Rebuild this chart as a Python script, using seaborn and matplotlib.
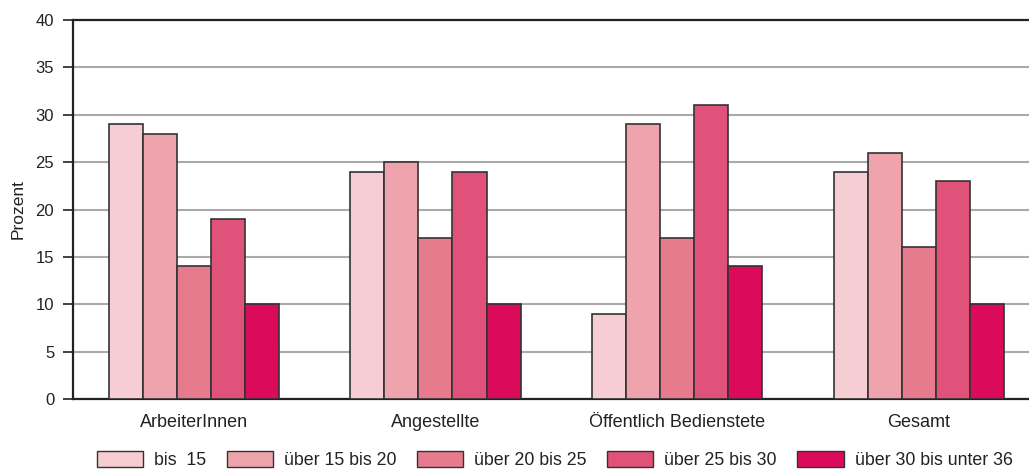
import matplotlib
matplotlib.use("Agg")
import matplotlib.pyplot as plt
import seaborn as sns
import pandas as pd
from matplotlib.patches import Patch

categories = ["ArbeiterInnen", "Angestellte", "Öffentlich Bedienstete", "Gesamt"]
groups = ["bis  15", "über 15 bis 20", "über 20 bis 25", "über 25 bis 30", "über 30 bis unter 36"]
values_bis15 = [29, 24, 9, 24]
values_15_20 = [28, 25, 29, 26]
values_20_25 = [14, 17, 17, 16]
values_25_30 = [19, 24, 31, 23]
values_30_36 = [10, 10, 14, 10]
colors = ["#F5CDD3", "#EEA3AD", "#E57B8D", "#E0527A", "#DB0A5B"]

series = [values_bis15, values_15_20, values_20_25, values_25_30, values_30_36]
rows = []
for g, vals in zip(groups, series):
    for c, v in zip(categories, vals):
        rows.append({"Kategorie": c, "Gruppe": g, "Prozent": v})
df = pd.DataFrame(rows)

sns.set_theme(style="white")
plt.rcParams["font.family"] = ["Liberation Sans", "DejaVu Sans"]

W, H = 1029, 471
fig = plt.figure(figsize=(W / 100, H / 100), dpi=100)
ax = fig.add_axes([73 / W, 1 - 399 / H, (1029 - 73) / W, (399 - 20) / H])

sns.barplot(data=df, x="Kategorie", y="Prozent", hue="Gruppe", order=categories,
            hue_order=groups, palette=colors, width=0.704, gap=0, saturation=1,
            edgecolor="#333333", linewidth=1.2, ax=ax, legend=False, zorder=3)

ax.set_ylim(0, 40)
ax.set_xlim(-0.5, (1029 - 194) / 241.6)
ax.set_yticks(range(0, 41, 5))
ax.yaxis.grid(True, color="#aaaaaa", linewidth=1.5, zorder=0)
ax.set_axisbelow(True)
for s in ["left", "bottom", "top"]:
    ax.spines[s].set_visible(True)
    ax.spines[s].set_color("#222222")
    ax.spines[s].set_linewidth(1.6)
ax.spines["right"].set_visible(False)
ax.tick_params(axis="y", which="both", left=True, length=7.5, width=1.2, color="#222222",
               labelsize=12, labelcolor="#222222", pad=6)
ax.tick_params(axis="x", bottom=False, labelsize=13, labelcolor="#222222", pad=5)
ax.set_xlabel("")
ax.set_ylabel("Prozent", fontsize=12.5, color="#222222", labelpad=6)
ax.yaxis.set_label_coords(-(73 - 18) / (1029 - 73), 0.5)
ax.yaxis.label.set_verticalalignment("center")

handles = [Patch(facecolor=c, edgecolor="#333333", linewidth=1.0) for c in colors]
fig.legend(handles, groups, loc="center left", bbox_to_anchor=(97 / W, 1 - 460 / H), ncol=5,
           frameon=False, fontsize=12.8, handlelength=2.6, handleheight=1.0,
           handletextpad=0.62, columnspacing=1.15, borderpad=0, borderaxespad=0,
           labelcolor="#222222")

fig.savefig("out.png", dpi=100)
